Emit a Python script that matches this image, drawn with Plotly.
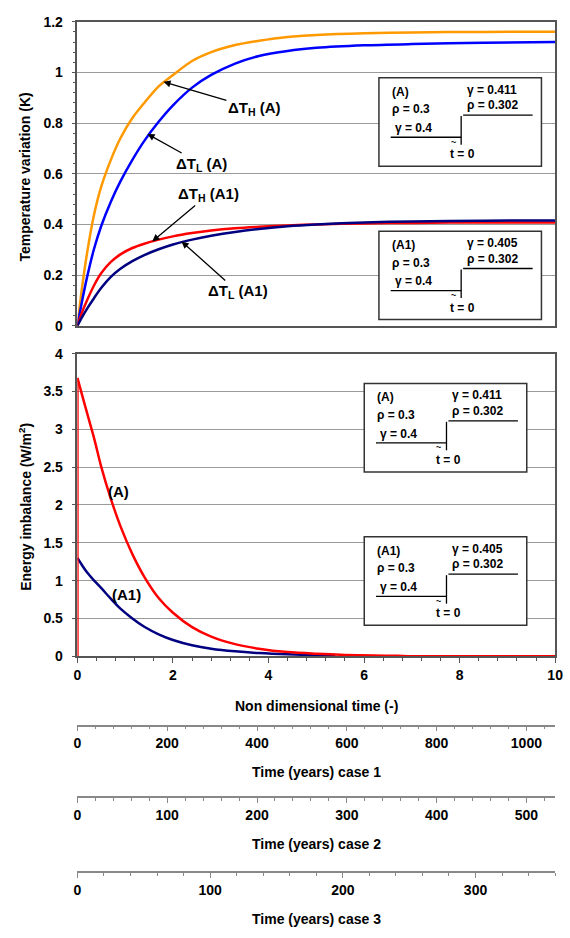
import plotly.graph_objects as go

W, H = 570, 938
FONT = "Liberation Sans, Arial, sans-serif"

# ---------------- data ----------------
t_nd = [0, 0.1, 0.2, 0.35, 0.5, 0.7, 0.9, 1.15, 1.4, 1.7, 2, 2.4, 2.8, 3.3, 3.8, 4.4, 5, 6, 7, 8.5, 10]
dTH_A = [0, 0.155, 0.285, 0.44, 0.55, 0.655, 0.74, 0.82, 0.88, 0.945, 0.99, 1.045, 1.08, 1.108, 1.125, 1.14, 1.148, 1.155, 1.158, 1.16, 1.161]
dTL_A = [0, 0.10, 0.19, 0.305, 0.395, 0.49, 0.57, 0.655, 0.73, 0.805, 0.87, 0.94, 0.99, 1.035, 1.065, 1.085, 1.097, 1.107, 1.112, 1.117, 1.12]
dTH_A1 = [0, 0.055, 0.10, 0.16, 0.208, 0.252, 0.282, 0.307, 0.324, 0.34, 0.353, 0.366, 0.376, 0.385, 0.391, 0.396, 0.40, 0.404, 0.406, 0.408, 0.408]
dTL_A1 = [0, 0.035, 0.067, 0.11, 0.15, 0.193, 0.225, 0.255, 0.279, 0.302, 0.321, 0.34, 0.355, 0.37, 0.382, 0.393, 0.40, 0.408, 0.412, 0.415, 0.416]

t_imb_A = [0, 0, 0.1, 0.2, 0.35, 0.5, 0.7, 0.9, 1.15, 1.4, 1.7, 2, 2.4, 2.8, 3.3, 3.8, 4.4, 5, 5.6, 6.2, 6.7, 7, 8.5, 10]
imb_A = [0, 3.68, 3.45, 3.22, 2.88, 2.5, 2.08, 1.72, 1.35, 1.05, 0.77, 0.575, 0.385, 0.26, 0.16, 0.10, 0.055, 0.033, 0.018, 0.01, 0.005, 0, 0, 0]
t_imb_A1 = [0, 0.1, 0.2, 0.35, 0.5, 0.7, 0.9, 1.15, 1.4, 1.7, 2, 2.4, 2.8, 3.3, 3.8, 4.4, 5, 5.4]
imb_A1 = [1.30, 1.20, 1.11, 1.00, 0.90, 0.76, 0.63, 0.50, 0.39, 0.29, 0.215, 0.145, 0.10, 0.065, 0.042, 0.025, 0.015, 0.01]

case_ranges = [1064, 532, 360]
case_dticks = [200, 100, 100]
case_minor = [40, 20, 20]
case_titles = ["Time (years) case 1", "Time (years) case 2", "Time (years) case 3"]

inset_labels = ["(A)", "(A1)"]
gamma_after = ["0.411", "0.405"]
rho_before, gamma_before, rho_after = "0.3", "0.4", "0.302"

# ---------------- geometry helpers ----------------
def pxx(p):
    return p / W

def pxy(p):
    return 1 - p / H

XD = [pxx(75), pxx(563)]
TOP_D = [pxy(323.3), pxy(14)]
BOT_D = [pxy(659.5), pxy(351.7)]
CASE_LINE_Y = [729, 802, 878]

fig = go.Figure()

def line(x, y, color, xa, ya, width=2.5, shape="spline"):
    fig.add_trace(go.Scatter(x=x, y=y, mode="lines", line=dict(color=color, width=width, shape=shape,
                                                                 smoothing=0.8),
                             xaxis=xa, yaxis=ya, showlegend=False, hoverinfo="skip"))

ORANGE, BLUE, RED, NAVY = "#FF9900", "#0000FF", "#FF0000", "#000080"

line(t_nd, dTH_A, ORANGE, "x", "y")
line(t_nd, dTL_A, BLUE, "x", "y")
line(t_nd, dTH_A1, RED, "x", "y")
line(t_nd, dTL_A1, NAVY, "x", "y")

line(t_imb_A1, imb_A1, NAVY, "x2", "y2")
# step at t = 0 (first two samples) then the decay
line(t_imb_A[:2], imb_A[:2], RED, "x2", "y2", shape="linear")
line(t_imb_A[1:], imb_A[1:], RED, "x2", "y2")

tickfont = dict(family=FONT, size=14, color="black", weight="bold")
AX = "#555555"

layout = dict(
    width=W, height=H, margin=dict(l=0, r=0, t=0, b=0),
    plot_bgcolor="white", paper_bgcolor="white", showlegend=False,
    xaxis=dict(domain=XD, anchor="y", range=[0, 10], showticklabels=False, ticks="",
               showline=True, mirror=True, linecolor=AX, linewidth=1.5,
               showgrid=False, zeroline=False),
    yaxis=dict(domain=TOP_D, anchor="x", range=[0, 1.2], tick0=0, dtick=0.2,
               ticks="outside", ticklen=4, tickcolor=AX, tickfont=tickfont,
               ticklabelstandoff=6,
               minor=dict(dtick=0.04, ticks="outside", ticklen=3, tickcolor=AX, showgrid=False),
               showgrid=True, gridcolor="#9a9a9a", gridwidth=1,
               showline=True, mirror=True, linecolor=AX, linewidth=1.5, zeroline=False),
    xaxis2=dict(domain=XD, anchor="y2", range=[0, 10], tick0=0, dtick=2,
                ticks="outside", ticklen=5, tickcolor=AX, tickfont=tickfont,
                ticklabeloverflow="allow",
                minor=dict(dtick=0.4, ticks="outside", ticklen=3, tickcolor=AX, showgrid=False),
                showline=True, mirror=True, linecolor=AX, linewidth=1.5,
                showgrid=False, zeroline=False),
    yaxis2=dict(domain=BOT_D, anchor="x2", range=[0, 4], tick0=0, dtick=0.5,
                ticks="outside", ticklen=4, tickcolor=AX, tickfont=tickfont,
                ticklabelstandoff=6,
                showgrid=True, gridcolor="#9a9a9a", gridwidth=1,
                showline=True, mirror=True, linecolor=AX, linewidth=1.5, zeroline=False),
)

for i in range(3):
    n = i + 3
    yl = pxy(CASE_LINE_Y[i])
    layout[f"xaxis{n}"] = dict(domain=XD, anchor=f"y{n}", range=[0, case_ranges[i]], tick0=0,
                               dtick=case_dticks[i], ticks="outside", ticklen=5, tickcolor="#888888",
                               tickfont=tickfont, showline=True, linecolor="#888888", linewidth=1.5,
                               ticklabeloverflow="allow",
                               minor=dict(dtick=case_minor[i], ticks="outside", ticklen=3,
                                          tickcolor="#888888", showgrid=False),
                               showgrid=False, zeroline=False)
    layout[f"yaxis{n}"] = dict(domain=[yl, yl + 0.002], anchor=f"x{n}", visible=False, range=[0, 1])
    fig.add_trace(go.Scatter(x=[None], y=[None], xaxis=f"x{n}", yaxis=f"y{n}",
                             showlegend=False, hoverinfo="skip"))

fig.update_layout(**layout)

ann = []
titlefont = dict(family=FONT, size=14, color="black", weight="bold")

# axis titles
ann.append(dict(text="Temperature variation (K)", x=pxx(22), y=pxy(172), xref="paper", yref="paper",
                textangle=-90, showarrow=False, font=titlefont, xanchor="center", yanchor="middle"))
ann.append(dict(text="Energy imbalance (W/m<sup>2</sup>)", x=pxx(22), y=pxy(508), xref="paper", yref="paper",
                textangle=-90, showarrow=False, font=titlefont, xanchor="center", yanchor="middle"))
ann.append(dict(text="Non dimensional time (-)", x=pxx(319), y=pxy(710), xref="paper", yref="paper",
                showarrow=False, font=titlefont, xanchor="center", yanchor="middle"))
for i, ty in enumerate([777, 851, 927]):
    ann.append(dict(text=case_titles[i], x=pxx(319), y=pxy(ty), xref="paper", yref="paper",
                    showarrow=False, font=titlefont, xanchor="center", yanchor="middle"))

# arrows (top panel)
afont = dict(family=FONT, size=15, color="black", weight="bold")
arrows = [
    ("ΔT<sub>H</sub> (A)", 1.80, 0.963, 91, 27),
    ("ΔT<sub>L</sub> (A)", 1.466, 0.757, 54, 30),
    ("ΔT<sub>H</sub> (A1)", 1.567, 0.333, 56, -47),
    ("ΔT<sub>L</sub> (A1)", 2.18, 0.333, 56, 50),
]
for txt, x, y, ax, ay in arrows:
    ann.append(dict(text=txt, x=x, y=y, xref="x", yref="y", ax=ax, ay=ay, showarrow=True,
                    arrowhead=2, arrowsize=1.1, arrowwidth=1.3, arrowcolor="black", font=afont))

# labels bottom panel
ann.append(dict(text="(A)", x=0.85, y=2.18, xref="x2", yref="y2", showarrow=False, font=afont))
ann.append(dict(text="(A1)", x=1.02, y=0.82, xref="x2", yref="y2", showarrow=False, font=afont))

shapes = []
ifont = dict(family=FONT, size=12, color="black", weight="bold")

def add_inset(x0, y0, k):
    w, h = 166, 90
    shapes.append(dict(type="rect", xref="paper", yref="paper", x0=pxx(x0), x1=pxx(x0 + w),
                       y0=pxy(y0 + h), y1=pxy(y0), line=dict(color="#333333", width=1.5),
                       fillcolor="white", layer="above"))
    for (a, b, c, d) in [(12, 60.5, 84, 60.5), (84, 39, 84, 68), (86, 38, 157, 38)]:
        shapes.append(dict(type="line", xref="paper", yref="paper", x0=pxx(x0 + a), x1=pxx(x0 + c),
                           y0=pxy(y0 + b), y1=pxy(y0 + d), line=dict(color="black", width=1.3),
                           layer="above"))
    texts = [(inset_labels[k], 11, 14), ("ρ = " + rho_before, 11, 32), ("γ = " + gamma_before, 14, 51),
             ("γ = " + gamma_after[k], 88, 12), ("ρ = " + rho_after, 88, 28), ("t = 0", 71, 78)]
    for s, dx, dy in texts:
        ann.append(dict(text=s, x=pxx(x0 + dx), y=pxy(y0 + dy), xref="paper", yref="paper",
                        showarrow=False, font=ifont, xanchor="left", yanchor="middle"))
    ann.append(dict(text="~", x=pxx(x0 + 71.5), y=pxy(y0 + 65), xref="paper", yref="paper",
                    showarrow=False, font=dict(family=FONT, size=9, color="black", weight="bold"),
                    xanchor="left", yanchor="middle"))

add_inset(383, 71, 0)
add_inset(383, 227, 1)
add_inset(368, 382, 0)
add_inset(368, 538, 1)

fig.update_layout(annotations=ann, shapes=shapes)
fig.write_html("out.html")
